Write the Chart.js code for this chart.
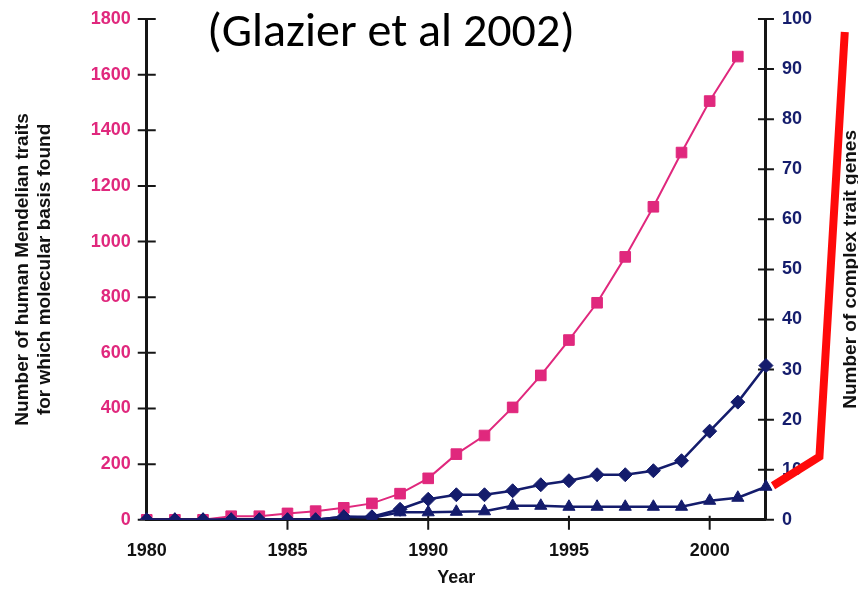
<!DOCTYPE html>
<html>
<head>
<meta charset="utf-8">
<script src="https://cdn.jsdelivr.net/npm/chart.js@4.4.1/dist/chart.umd.min.js"></script>
<style>
    html, body { margin: 0; padding: 0; background: #fff; }
    #grafico { display: block; }
</style>
</head>
<body>
<canvas id="grafico" width="858" height="590"></canvas>
<script>
// anos do eixo x (1980-2002)
const anos = [1980, 1981, 1982, 1983, 1984, 1985, 1986, 1987, 1988, 1989, 1990,
              1991, 1992, 1993, 1994, 1995, 1996, 1997, 1998, 1999, 2000, 2001, 2002];
const rotulosAnos = [1980, 1985, 1990, 1995, 2000];

// traits mendelianos (eixo esquerdo), 1980-2001
const mendelianos = [0, 0, 0, 13, 13, 23, 31, 43, 59, 94, 149,
                     236, 303, 404, 519, 646, 780, 945, 1125, 1320, 1505, 1665];

// genes de traits complexos (eixo direito), 1980-2002
const genesLosango = [0, 0, 0, 0, 0, 0, 0, 0.6, 0.6, 2.1, 4.1,
                      5.0, 5.0, 5.8, 7.0, 7.8, 9.0, 9.0, 9.8, 11.8, 17.7, 23.5, 30.8];
const genesTriangulo = [0, 0, 0, 0, 0, 0, 0, 0.6, 0.4, 1.5, 1.5,
                        1.6, 1.7, 2.8, 2.8, 2.6, 2.6, 2.6, 2.6, 2.6, 3.8, 4.4, 6.6];

// extrapolacao em vermelho, depois de 2002
const projecaoAnos = [2002.25, 2003.9, 2004.8];
const projecaoGenes = [6.8, 12.6, 97.4];

const tituloFonte = '(Glazier et al 2002)';
const tituloEsquerda = ['Number of human Mendelian traits', 'for which molecular basis found'];
const tituloDireita = 'Number of complex trait genes';
const tituloX = 'Year';

const ROSA = '#e0287d';
const AZUL = '#141c6c';
const FONTE = '"Liberation Sans", Arial, Helvetica, sans-serif';

document.addEventListener("DOMContentLoaded", function() {
    const ctxGrafico = document.getElementById('grafico').getContext('2d');

    // marcas que cruzam os eixos
    const marcasEixos = {
        id: 'marcasEixos',
        beforeDatasetsDraw(chart) {
            const { ctx, chartArea, scales } = chart;
            ctx.save();
            ctx.strokeStyle = '#161616';
            ctx.lineWidth = 2;
            ctx.beginPath();
            scales.y.ticks.forEach(t => {
                const py = scales.y.getPixelForValue(t.value);
                ctx.moveTo(chartArea.left - 9, py);
                ctx.lineTo(chartArea.left + 9, py);
            });
            scales.y2.ticks.forEach(t => {
                const py = scales.y2.getPixelForValue(t.value);
                ctx.moveTo(chartArea.right - 8, py);
                ctx.lineTo(chartArea.right + 8, py);
            });
            scales.x.ticks.forEach(t => {
                if (t.value === scales.x.min) return;
                const px = scales.x.getPixelForValue(t.value);
                ctx.moveTo(px, chartArea.bottom - 4);
                ctx.lineTo(px, chartArea.bottom + 10);
            });
            ctx.stroke();
            ctx.restore();
        }
    };

    // titulo da fonte e titulo do eixo direito (lido de baixo para cima)
    const textosExtras = {
        id: 'textosExtras',
        afterDraw(chart) {
            const { ctx, chartArea } = chart;
            ctx.save();
            ctx.fillStyle = '#000';
            ctx.textAlign = 'center';
            ctx.textBaseline = 'alphabetic';
            ctx.font = '48px Carlito, Lato, sans-serif';
            ctx.fillText(tituloFonte, 391, 46);

            ctx.font = 'bold 19px ' + FONTE;
            ctx.fillStyle = '#111';
            ctx.translate(856, (chartArea.top + chartArea.bottom) / 2);
            ctx.rotate(-Math.PI / 2);
            ctx.fillText(tituloDireita, 0, 0);
            ctx.restore();
        }
    };

    const grafico = new Chart(ctxGrafico, {
        type: 'line',
        data: {
            datasets: [
                {
                    label: 'Complex trait genes (triangles)',
                    data: anos.map((a, i) => ({ x: a, y: genesTriangulo[i] })),
                    yAxisID: 'y2',
                    borderColor: AZUL,
                    backgroundColor: AZUL,
                    borderWidth: 2.5,
                    pointStyle: 'triangle',
                    pointRadius: 7,
                    pointBorderWidth: 1,
                    tension: 0
                },
                {
                    label: 'Complex trait genes (diamonds)',
                    data: anos.map((a, i) => ({ x: a, y: genesLosango[i] })),
                    yAxisID: 'y2',
                    borderColor: AZUL,
                    backgroundColor: AZUL,
                    borderWidth: 2.5,
                    pointStyle: 'rectRot',
                    pointRadius: 7,
                    pointBorderWidth: 1,
                    tension: 0
                },
                {
                    label: 'Mendelian traits',
                    data: mendelianos.map((v, i) => ({ x: anos[i], y: v })),
                    yAxisID: 'y',
                    borderColor: ROSA,
                    backgroundColor: ROSA,
                    borderWidth: 2,
                    pointStyle: 'rect',
                    pointRadius: 7.5,
                    pointBorderWidth: 1,
                    tension: 0
                },
                {
                    label: 'Projection',
                    data: projecaoAnos.map((a, i) => ({ x: a, y: projecaoGenes[i] })),
                    yAxisID: 'y2',
                    borderColor: '#ff0a0a',
                    borderWidth: 8,
                    borderCapStyle: 'butt',
                    borderJoinStyle: 'miter',
                    pointRadius: 0,
                    tension: 0,
                    clip: false
                }
            ]
        },
        options: {
            responsive: false,
            animation: false,
            devicePixelRatio: 1,
            layout: {
                padding: { top: 19, left: 8, right: 46, bottom: 1 }
            },
            plugins: {
                legend: { display: false },
                tooltip: { enabled: false }
            },
            scales: {
                x: {
                    type: 'linear',
                    bounds: 'data',
                    // limites fixados aqui (e nao em min/max) para a projecao passar de 2002
                    afterDataLimits: function(escala) {
                        escala.min = anos[0];
                        escala.max = anos[anos.length - 1];
                    },
                    afterBuildTicks: function(escala) {
                        escala.ticks = rotulosAnos.map(v => ({ value: v }));
                    },
                    ticks: {
                        callback: v => String(v),
                        color: '#111',
                        font: { family: FONTE, size: 18, weight: 'bold' },
                        padding: 0,
                        maxRotation: 0,
                        autoSkip: false
                    },
                    grid: { display: false, drawTicks: true, tickLength: 20 },
                    border: { display: true, color: '#161616', width: 3 },
                    title: {
                        display: true,
                        text: tituloX,
                        color: '#111',
                        font: { family: FONTE, size: 18, weight: 'bold' },
                        padding: { top: 6, bottom: 0 }
                    }
                },
                y: {
                    position: 'left',
                    min: 0,
                    max: 1800,
                    ticks: {
                        stepSize: 200,
                        callback: v => String(v),
                        color: ROSA,
                        font: { family: FONTE, size: 18, weight: 'bold' },
                        padding: 0
                    },
                    grid: { display: false, drawTicks: true, tickLength: 16 },
                    border: { display: true, color: '#161616', width: 3 },
                    title: {
                        display: true,
                        text: tituloEsquerda,
                        color: '#111',
                        font: { family: FONTE, size: 19, weight: 'bold', lineHeight: 1.15 },
                        padding: { top: 4, bottom: 35 }
                    }
                },
                y2: {
                    position: 'right',
                    min: 0,
                    max: 100,
                    ticks: {
                        stepSize: 10,
                        callback: v => String(v),
                        color: AZUL,
                        font: { family: FONTE, size: 18, weight: 'bold' },
                        padding: 0
                    },
                    grid: { display: false, drawTicks: true, tickLength: 16 },
                    border: { display: true, color: '#161616', width: 3 }
                }
            }
        },
        plugins: [marcasEixos, textosExtras]
    });
});
</script>
</body>
</html>
